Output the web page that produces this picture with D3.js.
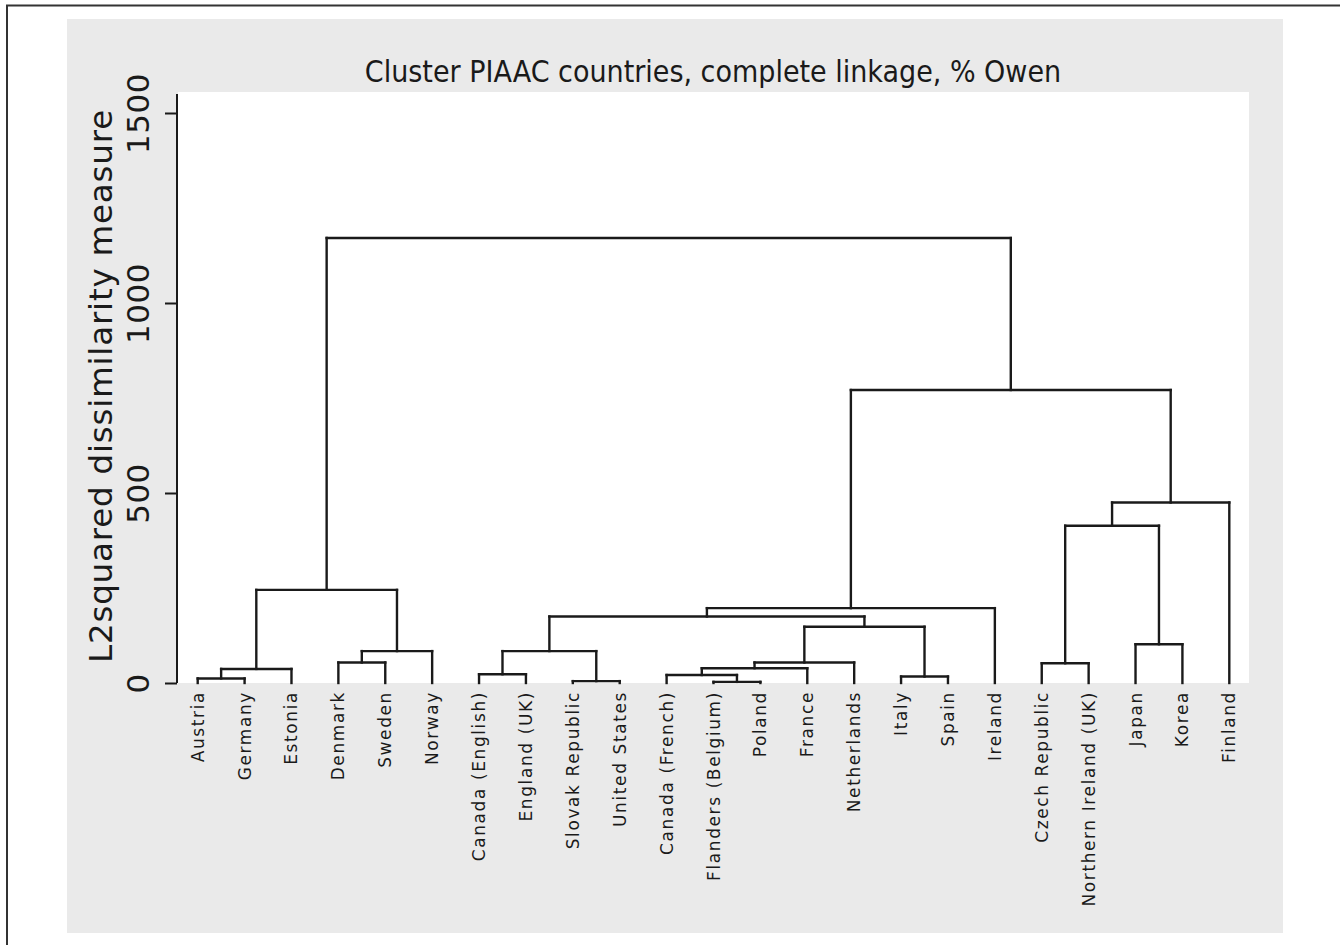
<!DOCTYPE html>
<html>
<head>
<meta charset="utf-8">
<script src="https://cdn.jsdelivr.net/npm/d3@7"></script>
<style>
  html, body { margin: 0; padding: 0; background: #ffffff; }
  svg { display: block; }
</style>
</head>
<body>
<svg id="chart" width="1340" height="945"></svg>
<script>
// ---------- DATA ----------
const title = "Cluster PIAAC countries, complete linkage, % Owen";
const yTitle = "L2squared dissimilarity measure";
const yTicks = [0, 500, 1000, 1500];

const leaves = [
  "Austria", "Germany", "Estonia", "Denmark", "Sweden", "Norway",
  "Canada (English)", "England (UK)", "Slovak Republic", "United States",
  "Canada (French)", "Flanders (Belgium)", "Poland", "France", "Netherlands",
  "Italy", "Spain", "Ireland", "Czech Republic", "Northern Ireland (UK)",
  "Japan", "Korea", "Finland"
];

// merges: left child, right child (leaf name or "m<index>"), merge height
const mergeLeft  = ["Austria", "m0", "Denmark", "m2", "m1",
  "Canada (English)", "Slovak Republic", "m5",
  "Flanders (Belgium)", "Canada (French)", "m9", "m10", "Italy", "m11",
  "m7", "m14", "Czech Republic", "Japan", "m16", "m18", "m15", "m4"];
const mergeRight = ["Germany", "Estonia", "Sweden", "Norway", "m3",
  "England (UK)", "United States", "m6",
  "Poland", "m8", "France", "Netherlands", "Spain", "m12",
  "m13", "Ireland", "Northern Ireland (UK)", "Korea", "m17", "Finland", "m19", "m20"];
const mergeHeight = [12, 37, 54, 84, 245,
  23, 5, 84,
  3, 21, 39, 54, 17, 148,
  175, 197, 52, 102, 414, 475, 771, 1171];

// ---------- LAYOUT ----------
const svg = d3.select("#chart");
const W = 1340, H = 945;

// outer frame (left & top visible)
svg.append("rect").attr("x", 7).attr("y", 5.5).attr("width", W + 10).attr("height", H + 10)
  .attr("fill", "#ffffff").attr("stroke", "#333").attr("stroke-width", 2);

// gray graph region
svg.append("rect").attr("x", 67).attr("y", 19).attr("width", 1216).attr("height", 914)
  .attr("fill", "#eaeaea");

const plot = { left: 178, right: 1249, top: 92, bottom: 683 };

// white plot region
svg.append("rect").attr("x", plot.left).attr("y", plot.top)
  .attr("width", plot.right - plot.left).attr("height", plot.bottom - plot.top)
  .attr("fill", "#ffffff");

const x = d3.scalePoint().domain(leaves).range([plot.left, plot.right]).padding(0.42);
const y = d3.scaleLinear().domain([0, 1500]).range([683, 113]);

// compute node positions
const nodeX = {}, nodeH = {};
leaves.forEach(l => { nodeX[l] = x(l); nodeH[l] = 0; });
const segs = [];
mergeHeight.forEach((h, i) => {
  const a = mergeLeft[i], b = mergeRight[i];
  const xa = nodeX[a], xb = nodeX[b];
  segs.push([xa, y(nodeH[a]), xa, y(h)]);
  segs.push([xb, y(nodeH[b]), xb, y(h)]);
  segs.push([xa, y(h), xb, y(h)]);
  nodeX["m" + i] = (xa + xb) / 2;
  nodeH["m" + i] = h;
});

const linkG = svg.append("g").attr("stroke", "#1a1a1a").attr("stroke-width", 2.4)
  .attr("stroke-linecap", "square").attr("fill", "none");
linkG.selectAll("line").data(segs).join("line")
  .attr("x1", d => d[0]).attr("y1", d => d[1])
  .attr("x2", d => d[2]).attr("y2", d => d[3]);

// y axis
const yAxis = d3.axisLeft(y).tickValues(yTicks).tickSize(12).tickSizeOuter(0).tickFormat(d3.format("d"));
const yg = svg.append("g").attr("transform", `translate(${plot.left - 1},0)`).call(yAxis);
yg.select(".domain").attr("d", `M0,${plot.top + 2}V${plot.bottom}`).attr("stroke", "#1a1a1a").attr("stroke-width", 2);
yg.selectAll(".tick line").attr("stroke", "#1a1a1a").attr("stroke-width", 2);
yg.selectAll(".tick text")
  .attr("x", null).attr("dy", null)
  .attr("transform", `translate(-28,0) rotate(-90)`)
  .attr("text-anchor", "middle")
  .attr("font-family", "DejaVu Sans, sans-serif")
  .attr("font-size", 31)
  .attr("letter-spacing", 0.5)
  .attr("fill", "#1a1a1a");

// y axis title
svg.append("text")
  .attr("transform", `translate(112, 386) rotate(-90)`)
  .attr("text-anchor", "middle")
  .attr("font-family", "DejaVu Sans, sans-serif")
  .attr("font-size", 32.5)
  .attr("letter-spacing", 0.8)
  .attr("fill", "#1a1a1a")
  .text(yTitle);

// x labels
svg.append("g").selectAll("text").data(leaves).join("text")
  .attr("transform", d => `translate(${x(d) + 6}, 691) rotate(-90)`)
  .attr("text-anchor", "end")
  .attr("font-family", "DejaVu Sans, sans-serif")
  .attr("font-size", 17)
  .attr("letter-spacing", 1.6)
  .attr("fill", "#1a1a1a")
  .text(d => d);

// title
svg.append("text")
  .attr("x", 713).attr("y", 82)
  .attr("text-anchor", "middle")
  .attr("font-family", "'Liberation Sans Narrow', 'DejaVu Sans Condensed', sans-serif")
  .attr("font-size", 30)
  .attr("fill", "#1a1a1a")
  .text(title);
</script>
</body>
</html>
